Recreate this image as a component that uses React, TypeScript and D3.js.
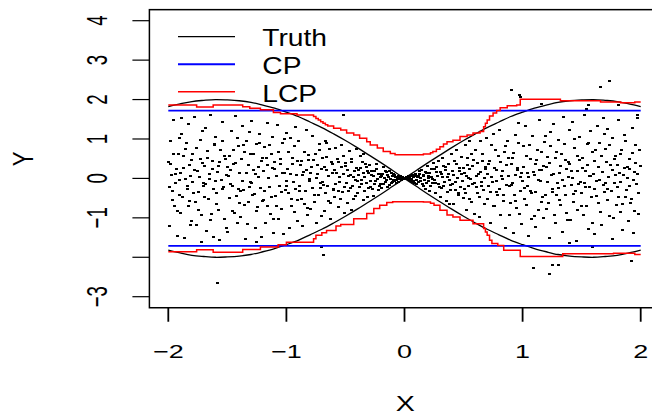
import React from "react";
import * as d3 from "d3";

const W = 652;
const H = 414;

const xTicks = [-2, -1, 0, 1, 2];
const xTickLabels = ["−2", "−1", "0", "1", "2"];
const yTicks = [-3, -2, -1, 0, 1, 2, 3, 4];
const yTickLabels = ["−3", "", "−1", "0", "1", "2", "3", "4"];

const legendLabels = ["Truth", "CP", "LCP"];
const legendColors = ["#000000", "#0000ff", "#ff0000"];

const truthX = [-2, -1.9, -1.8, -1.7, -1.6, -1.5, -1.4, -1.3, -1.2, -1.1, -1, -0.9, -0.8, -0.7, -0.6, -0.5, -0.4, -0.3, -0.2, -0.1, 0,
  0.1, 0.2, 0.3, 0.4, 0.5, 0.6, 0.7, 0.8, 0.9, 1, 1.1, 1.2, 1.3, 1.4, 1.5, 1.6, 1.7, 1.8, 1.9, 2];
const truthUpper = [1.82, 1.89, 1.95, 1.98, 2.0, 1.99, 1.97, 1.93, 1.86, 1.78, 1.68, 1.57, 1.43, 1.29, 1.13, 0.96, 0.78, 0.59, 0.4, 0.2, 0,
  -0.2, -0.4, -0.59, -0.78, -0.96, -1.13, -1.29, -1.43, -1.57, -1.68, -1.78, -1.86, -1.93, -1.97, -1.99, -2.0, -1.98, -1.95, -1.89, -1.82];
const truthLower = [-1.82, -1.89, -1.95, -1.98, -2.0, -1.99, -1.97, -1.93, -1.86, -1.78, -1.68, -1.57, -1.43, -1.29, -1.13, -0.96, -0.78, -0.59, -0.4, -0.2, 0,
  0.2, 0.4, 0.59, 0.78, 0.96, 1.13, 1.29, 1.43, 1.57, 1.68, 1.78, 1.86, 1.93, 1.97, 1.99, 2.0, 1.98, 1.95, 1.89, 1.82];

const cpUpper = 1.72;
const cpLower = -1.71;

const lcpUpperX = [-2, -1.76, -1.62, -1.37, -1.31, -1.22, -1.11, -1.05, -0.91, -0.77, -0.75, -0.73, -0.71, -0.69, -0.67, -0.65, -0.6, -0.54, -0.49, -0.43, -0.38, -0.32, -0.29, -0.23, -0.18, -0.12, -0.08,
  0.16, 0.22, 0.24, 0.27, 0.3, 0.33, 0.36, 0.41, 0.47, 0.53, 0.58, 0.64, 0.67, 0.685, 0.7, 0.72, 0.75, 0.78, 0.81, 0.87, 0.95, 0.98, 1.32, 1.66, 1.83, 1.95, 2];
const lcpUpperY = [1.86, 1.81, 1.86, 1.82, 1.78, 1.74, 1.67, 1.64, 1.61, 1.57, 1.52, 1.48, 1.44, 1.4, 1.36, 1.33, 1.27, 1.23, 1.15, 1.1, 1.02, 0.93, 0.85, 0.77, 0.68, 0.63, 0.6,
  0.62, 0.65, 0.68, 0.74, 0.8, 0.87, 0.93, 0.97, 1.06, 1.1, 1.15, 1.19, 1.31, 1.4, 1.48, 1.58, 1.66, 1.72, 1.79, 1.84, 1.86, 2.01, 1.97, 1.94, 1.92, 1.94, 1.94];
const lcpLowerX = [-2, -1.76, -1.62, -1.37, -1.22, -1.07, -1.0, -0.77, -0.75, -0.7, -0.66, -0.58, -0.54, -0.43, -0.32, -0.26, -0.21, -0.15, -0.1,
  0.16, 0.22, 0.25, 0.3, 0.36, 0.41, 0.47, 0.58, 0.67, 0.685, 0.7, 0.72, 0.74, 0.79, 0.84, 0.98, 1.34, 1.77, 1.95, 2];
const lcpLowerY = [-1.86, -1.81, -1.87, -1.8, -1.74, -1.68, -1.62, -1.53, -1.44, -1.38, -1.32, -1.21, -1.17, -1.02, -0.89, -0.76, -0.68, -0.61, -0.59,
  -0.6, -0.63, -0.68, -0.81, -0.93, -0.98, -1.06, -1.15, -1.27, -1.36, -1.44, -1.57, -1.65, -1.7, -1.82, -1.98, -1.91, -1.9, -1.93, -1.93];

const points: [number, number][] = [
  [-1.995, 0.42], [-1.987, -1.21], [-1.978, 0.95], [-1.966, -0.33], [-1.958, 1.48], [-1.947, -0.71], [-1.936, 0.11], [-1.925, -1.46], [-1.914, 0.63], [-1.903, -0.05],
  [-1.896, -0.88], [-1.884, 1.12], [-1.875, 0.27], [-1.862, -1.52], [-1.853, 0.74], [-1.841, -0.19], [-1.833, 1.39], [-1.821, -0.57], [-1.812, 0.05], [-1.804, -1.07],
  [-1.797, 0.61], [-1.786, -0.36], [-1.774, 1.55], [-1.765, -1.18], [-1.752, 0.18], [-1.743, -0.79], [-1.731, 0.97], [-1.722, -1.61], [-1.713, 0.39], [-1.702, -0.12],
  [-1.694, -0.47], [-1.683, 1.27], [-1.677, -1.33], [-1.664, 0.52], [-1.655, -0.02], [-1.646, 1.61], [-1.634, -0.91], [-1.623, 0.23], [-1.615, -1.48], [-1.606, 0.84],
  [-1.598, 1.05], [-1.589, -0.64], [-1.576, 0.31], [-1.568, -1.57], [-1.556, 0.71], [-1.545, -0.26], [-1.537, 1.44], [-1.525, -1.02], [-1.514, 0.48], [-1.503, 0.09],
  [-1.497, -1.36], [-1.485, 0.58], [-1.476, -0.14], [-1.463, 1.21], [-1.457, -0.83], [-1.444, 0.36], [-1.433, 1.58], [-1.426, -0.45], [-1.412, -1.12], [-1.404, 0.81],
  [-1.395, 0.15], [-1.387, -0.97], [-1.373, 1.32], [-1.366, -0.29], [-1.354, 0.66], [-1.347, -1.54], [-1.335, 0.94], [-1.322, -0.61], [-1.316, 1.17], [-1.305, -0.08],
  [-1.298, 1.46], [-1.284, -0.42], [-1.277, 0.22], [-1.265, -1.27], [-1.253, 0.87], [-1.246, -0.73], [-1.234, 0.04], [-1.225, 1.13], [-1.213, -1.49], [-1.202, 0.51],
  [-1.196, -0.56], [-1.188, 0.79], [-1.174, -1.13], [-1.163, 0.33], [-1.157, 1.41], [-1.143, -0.21], [-1.135, -0.89], [-1.124, 0.62], [-1.116, 1.05], [-1.105, -1.38],
  [-1.097, 0.24], [-1.086, -0.71], [-1.075, 1.36], [-1.068, -1.02], [-1.054, 0.49], [-1.043, -0.35], [-1.037, 0.91], [-1.024, -1.42], [-1.013, 0.13], [-1.003, 1.16],
  [-0.995, -0.18], [-0.984, 0.66], [-0.977, -1.25], [-0.963, 1.03], [-0.956, -0.52], [-0.945, 0.37], [-0.933, -0.86], [-0.927, 1.31], [-0.914, 0.08], [-0.906, -1.09],
  [-0.897, 0.94], [-0.885, -0.31], [-0.874, 0.45], [-0.867, -1.21], [-0.853, 0.17], [-0.846, -0.64], [-0.834, 1.24], [-0.823, -0.93], [-0.817, 0.59], [-0.804, -0.06],
  [-0.796, -0.78], [-0.787, 0.29], [-0.776, 1.08], [-0.764, -0.42], [-0.755, 0.63], [-0.743, -1.12], [-0.736, 0.11], [-0.722, 0.87], [-0.715, -0.25], [-0.703, -0.96],
  [-0.698, 0.52], [-0.684, -0.17], [-0.676, -0.83], [-0.665, 0.96], [-0.657, 0.21], [-0.644, -0.57], [-0.635, 0.74], [-0.626, -1.02], [-0.612, 0.36], [-0.604, -0.29],
  [-0.594, -0.46], [-0.588, 0.78], [-0.575, 0.13], [-0.563, -0.72], [-0.555, 0.41], [-0.547, -0.09], [-0.536, 0.86], [-0.522, -0.34], [-0.514, 0.57], [-0.505, -0.88],
  [-0.497, 0.31], [-0.486, -0.63], [-0.477, 0.07], [-0.465, 0.69], [-0.454, -0.24], [-0.446, 0.48], [-0.433, -0.51], [-0.425, 0.18], [-0.414, -0.04], [-0.403, 0.74],
  [-0.396, -0.38], [-0.388, 0.22], [-0.374, 0.56], [-0.366, -0.13], [-0.355, 0.41], [-0.343, -0.55], [-0.337, 0.03], [-0.324, 0.29], [-0.316, -0.46], [-0.305, 0.14],
  [-0.296, 0.33], [-0.287, -0.21], [-0.278, 0.08], [-0.263, -0.44], [-0.254, 0.19], [-0.247, -0.06], [-0.236, 0.37], [-0.224, -0.29], [-0.215, 0.12], [-0.203, -0.15],
  [-0.197, -0.24], [-0.186, 0.11], [-0.178, 0.29], [-0.165, -0.08], [-0.153, 0.17], [-0.146, -0.21], [-0.134, 0.04], [-0.127, 0.19], [-0.114, -0.12], [-0.105, 0.07],
  [-0.094, 0.12], [-0.086, -0.07], [-0.075, 0.03], [-0.066, -0.11], [-0.054, 0.06], [-0.047, -0.02], [-0.036, 0.05], [-0.025, -0.04], [-0.014, 0.01], [-0.006, -0.01],
  [0.004, 0.0], [0.013, -0.02], [0.025, 0.04], [0.033, -0.05], [0.046, 0.02], [0.054, 0.07], [0.063, -0.09], [0.075, 0.03], [0.084, -0.12], [0.096, 0.1],
  [0.103, -0.14], [0.115, 0.05], [0.124, 0.18], [0.136, -0.07], [0.143, 0.22], [0.157, -0.19], [0.165, 0.09], [0.176, -0.27], [0.184, 0.13], [0.197, 0.31],
  [0.206, 0.07], [0.214, -0.31], [0.227, 0.24], [0.233, -0.12], [0.245, 0.39], [0.256, -0.03], [0.264, -0.36], [0.273, 0.16], [0.285, 0.44], [0.294, -0.22],
  [0.303, -0.47], [0.317, 0.11], [0.325, 0.52], [0.334, -0.18], [0.346, 0.28], [0.353, -0.58], [0.367, 0.04], [0.375, 0.37], [0.386, -0.29], [0.395, 0.61],
  [0.404, 0.19], [0.413, -0.66], [0.426, 0.43], [0.435, -0.09], [0.443, 0.72], [0.457, -0.38], [0.464, 0.26], [0.476, -0.21], [0.485, 0.55], [0.497, -0.49],
  [0.506, -0.27], [0.514, 0.84], [0.523, -0.79], [0.537, 0.35], [0.545, 0.02], [0.553, -0.52], [0.566, 0.63], [0.574, -0.14], [0.587, 0.47], [0.595, -0.91],
  [0.603, 0.71], [0.617, -0.38], [0.624, 0.12], [0.636, -0.97], [0.644, 0.95], [0.655, -0.19], [0.663, 0.44], [0.677, -0.66], [0.686, 0.28], [0.694, 1.02],
  [0.705, -0.53], [0.713, 0.37], [0.726, -1.14], [0.734, 0.86], [0.747, -0.08], [0.755, 1.12], [0.764, -0.71], [0.776, 0.21], [0.783, -0.34], [0.796, 0.58],
  [0.804, 1.24], [0.817, -0.93], [0.823, 0.07], [0.835, -0.42], [0.846, 0.68], [0.854, -1.27], [0.866, 0.33], [0.873, 0.96], [0.887, -0.18], [0.895, -0.62],
  [0.906, -0.16], [0.914, 0.52], [0.925, -1.38], [0.937, 1.09], [0.944, -0.57], [0.956, 0.27], [0.963, 1.41], [0.975, -0.89], [0.984, 0.03], [0.993, -1.15],
  [1.004, 0.81], [1.016, -0.24], [1.023, 1.32], [1.035, -0.68], [1.043, 0.14], [1.054, -1.46], [1.067, 0.49], [1.076, -0.37], [1.085, 1.07], [1.097, -0.95],
  [1.106, 0.36], [1.113, -1.22], [1.125, 0.72], [1.134, -0.05], [1.147, 1.47], [1.156, -0.61], [1.164, 0.22], [1.173, -1.01], [1.186, 0.93], [1.195, -0.43],
  [1.204, -0.78], [1.215, 0.55], [1.227, -1.51], [1.236, 1.18], [1.244, 0.09], [1.253, -0.34], [1.265, 1.39], [1.276, -1.13], [1.284, 0.67], [1.297, -0.12],
  [1.306, 0.98], [1.314, -0.56], [1.323, 0.31], [1.335, -1.36], [1.346, 1.57], [1.357, -0.19], [1.364, 0.46], [1.372, -0.87], [1.385, 0.03], [1.393, 1.23],
  [1.405, -1.05], [1.417, 0.19], [1.426, 1.42], [1.434, -0.39], [1.443, 0.77], [1.455, -1.58], [1.466, 0.58], [1.474, -0.14], [1.483, 1.06], [1.496, -0.71],
  [1.503, 0.27], [1.514, -0.93], [1.526, 1.61], [1.535, -0.22], [1.547, 0.88], [1.554, -1.29], [1.563, 0.05], [1.575, 1.19], [1.586, -0.48], [1.594, 0.66],
  [1.607, -1.41], [1.613, 0.43], [1.624, -0.07], [1.637, 1.33], [1.645, -0.62], [1.653, 0.91], [1.666, -1.18], [1.674, 0.16], [1.687, 1.54], [1.695, -0.35],
  [1.704, 0.74], [1.716, -0.28], [1.723, 1.26], [1.734, -0.96], [1.745, 0.34], [1.757, -1.53], [1.763, 1.02], [1.776, -0.11], [1.784, 0.57], [1.796, -0.67],
  [1.803, -0.21], [1.815, 1.48], [1.826, -0.84], [1.833, 0.62], [1.844, -1.32], [1.857, 0.08], [1.865, 1.11], [1.874, -0.46], [1.886, 0.29], [1.893, -1.07],
  [1.904, 0.49], [1.913, -0.63], [1.927, 1.27], [1.935, -1.39], [1.946, 0.17], [1.953, 0.86], [1.964, -0.15], [1.976, 1.52], [1.985, -0.91], [1.996, 0.32],
  [-1.585, -2.65], [0.91, 2.23], [0.97, 2.12], [0.98, 2.06], [1.16, 1.89], [1.56, 1.86], [1.54, 1.76], [1.66, 2.33], [1.74, 2.48], [1.81, 1.85],
  [1.97, 1.61], [1.09, -2.27], [1.25, -2.19], [1.3, -2.19], [1.23, -2.42], [1.92, -2.1], [1.4, -1.64], [1.59, -1.74], [-0.69, -1.93], [-0.7, -1.74],
  [-0.52, 1.61], [-0.66, 0.89], [-1.89, 1.53], [-1.25, -1.6], [-0.35, 0.62], [0.38, -0.66], [-0.45, -0.8], [0.55, 0.95],
];

const pointsCentral: [number, number][] = [
  [-1.992, -0.21], [-1.981, 0.37], [-1.972, 0.08], [-1.961, -0.54], [-1.952, 0.62], [-1.941, -0.12], [-1.932, 0.25], [-1.919, -0.83], [-1.909, 1.02], [-1.901, -0.41],
  [-1.893, 0.14], [-1.879, -0.46], [-1.869, 0.58], [-1.857, -0.02], [-1.848, 0.91], [-1.838, -0.28], [-1.827, -0.71], [-1.817, 0.33], [-1.808, -1.18], [-1.801, 0.47],
  [-1.792, -0.09], [-1.781, 0.22], [-1.77, -0.61], [-1.759, 0.78], [-1.748, -0.35], [-1.738, 0.04], [-1.727, 0.49], [-1.717, -0.94], [-1.708, 1.21], [-1.704, -0.18],
  [-1.697, 0.31], [-1.689, -0.15], [-1.671, 0.69], [-1.66, -0.53], [-1.651, 0.11], [-1.641, -1.05], [-1.629, 0.43], [-1.619, -0.27], [-1.61, 0.87], [-1.602, -0.06],
  [-1.595, -0.38], [-1.583, 0.17], [-1.572, -0.79], [-1.563, 0.42], [-1.551, -0.04], [-1.541, 0.96], [-1.532, -0.22], [-1.52, 0.58], [-1.509, -1.27], [-1.501, 0.28],
  [-1.492, 0.06], [-1.481, -0.49], [-1.47, 0.21], [-1.459, -0.18], [-1.451, 0.71], [-1.439, -0.88], [-1.429, 0.39], [-1.418, 1.03], [-1.408, -0.27], [-1.401, -0.63],
  [-1.391, -0.33], [-1.38, 0.49], [-1.37, -0.06], [-1.36, 0.86], [-1.351, -0.67], [-1.341, 0.13], [-1.329, -1.15], [-1.319, 0.34], [-1.31, -0.21], [-1.302, 0.62],
  [-1.293, -0.11], [-1.281, 0.63], [-1.272, -0.39], [-1.26, 0.12], [-1.249, -0.82], [-1.24, 0.29], [-1.229, 0.91], [-1.219, -0.24], [-1.208, 0.45], [-1.201, -0.58],
  [-1.192, 0.18], [-1.182, -0.32], [-1.169, 0.53], [-1.16, -0.69], [-1.151, 0.02], [-1.139, 0.84], [-1.13, -0.47], [-1.12, 0.26], [-1.109, -1.04], [-1.101, 0.41],
  [-1.092, -0.44], [-1.081, 0.07], [-1.071, 0.68], [-1.062, -0.19], [-1.049, 0.36], [-1.039, -0.78], [-1.031, 0.15], [-1.019, 1.01], [-1.008, -0.29], [-1.001, -0.06],
  [-0.991, 0.24], [-0.98, -0.38], [-0.969, 0.11], [-0.959, -0.71], [-0.95, 0.52], [-0.94, -0.08], [-0.929, 0.81], [-0.92, -0.27], [-0.91, 0.43], [-0.902, -0.55],
  [-0.892, -0.18], [-0.88, 0.34], [-0.871, -0.52], [-0.861, 0.09], [-0.85, 0.68], [-0.839, -0.33], [-0.829, 0.21], [-0.819, -0.76], [-0.809, 0.47], [-0.801, -0.02],
  [-0.792, 0.13], [-0.781, -0.24], [-0.771, 0.46], [-0.76, -0.61], [-0.749, 0.02], [-0.739, 0.33], [-0.729, -0.41], [-0.718, 0.71], [-0.709, -0.12], [-0.701, 0.24],
  [-0.693, -0.09], [-0.681, 0.28], [-0.671, -0.36], [-0.661, 0.55], [-0.651, -0.19], [-0.64, 0.07], [-0.63, -0.63], [-0.619, 0.41], [-0.608, 0.14], [-0.601, -0.26],
  [-0.591, 0.22], [-0.582, -0.14], [-0.57, 0.48], [-0.559, -0.31], [-0.551, 0.04], [-0.54, -0.53], [-0.53, 0.29], [-0.519, 0.11], [-0.509, -0.21], [-0.502, 0.39],
  [-0.492, -0.12], [-0.481, 0.21], [-0.471, -0.33], [-0.46, 0.09], [-0.45, 0.42], [-0.44, -0.18], [-0.429, 0.03], [-0.419, -0.44], [-0.409, 0.27], [-0.401, -0.06],
  [-0.392, 0.08], [-0.381, -0.21], [-0.37, 0.27], [-0.361, -0.04], [-0.35, 0.15], [-0.34, -0.32], [-0.33, 0.36], [-0.32, -0.11], [-0.31, 0.19], [-0.301, -0.25],
  [-0.292, -0.06], [-0.282, 0.18], [-0.27, -0.27], [-0.259, 0.05], [-0.25, -0.13], [-0.24, 0.24], [-0.23, -0.02], [-0.219, 0.11], [-0.21, -0.19], [-0.201, 0.03],
  [-0.192, 0.06], [-0.181, -0.14], [-0.171, 0.02], [-0.16, 0.2], [-0.15, -0.05], [-0.14, 0.09], [-0.129, -0.17], [-0.12, -0.01], [-0.11, 0.13], [-0.101, -0.08],
  [-0.091, -0.03], [-0.081, 0.08], [-0.071, -0.05], [-0.06, 0.02], [-0.05, -0.08], [-0.041, 0.04], [-0.031, -0.01], [-0.021, 0.03], [-0.011, -0.02], [-0.003, 0.0],
  [0.008, 0.01], [0.018, 0.03], [0.029, -0.02], [0.038, 0.06], [0.049, -0.04], [0.059, -0.01], [0.068, 0.08], [0.079, -0.06], [0.089, 0.05], [0.099, -0.03],
  [0.108, 0.04], [0.119, -0.09], [0.129, 0.12], [0.139, 0.02], [0.149, -0.15], [0.161, 0.07], [0.17, -0.04], [0.18, 0.16], [0.19, -0.11], [0.199, 0.01],
  [0.202, -0.07], [0.21, 0.13], [0.221, -0.19], [0.23, 0.04], [0.24, -0.02], [0.251, 0.23], [0.26, -0.11], [0.269, 0.28], [0.279, 0.06], [0.29, -0.14],
  [0.308, 0.17], [0.312, -0.24], [0.321, 0.03], [0.33, 0.31], [0.341, -0.09], [0.35, 0.21], [0.36, -0.35], [0.371, 0.12], [0.38, -0.04], [0.391, -0.17],
  [0.408, -0.13], [0.418, 0.08], [0.43, -0.29], [0.439, 0.36], [0.448, 0.01], [0.46, -0.42], [0.469, 0.19], [0.48, 0.11], [0.49, -0.06], [0.5, 0.27],
  [0.51, 0.14], [0.519, -0.36], [0.528, 0.06], [0.532, 0.51], [0.541, -0.18], [0.55, 0.25], [0.561, -0.02], [0.57, -0.59], [0.58, 0.32], [0.591, -0.11],
  [0.608, -0.21], [0.612, 0.06], [0.62, 0.39], [0.631, -0.47], [0.64, 0.17], [0.649, -0.08], [0.659, 0.62], [0.67, -0.29], [0.68, 0.01], [0.69, 0.23],
  [0.7, 0.12], [0.709, -0.19], [0.72, 0.44], [0.73, -0.34], [0.74, 0.03], [0.75, -0.69], [0.76, 0.26], [0.77, 0.71], [0.78, -0.07], [0.79, -0.43],
  [0.801, -0.28], [0.812, 0.41], [0.826, -0.02], [0.831, 0.19], [0.842, -0.57], [0.858, 0.83], [0.861, -0.16], [0.877, 0.05], [0.883, 0.52], [0.891, -0.93],
  [0.902, 0.37], [0.911, -0.11], [0.921, 0.64], [0.929, -0.43], [0.941, 0.08], [0.951, -0.76], [0.959, 0.22], [0.969, 0.91], [0.979, -0.31], [0.988, 0.14],
  [1.001, -0.07], [1.011, 0.29], [1.019, -0.52], [1.031, 0.58], [1.039, -0.19], [1.049, 0.04], [1.061, 0.86], [1.071, -0.33], [1.079, -1.02], [1.091, 0.17],
  [1.101, 0.09], [1.109, -0.34], [1.119, 0.47], [1.131, -0.81], [1.141, 0.21], [1.151, -0.06], [1.159, 0.68], [1.169, -0.48], [1.181, 0.31], [1.19, 1.08],
  [1.201, 0.28], [1.211, -0.09], [1.221, -0.62], [1.231, 0.39], [1.239, 0.83], [1.249, -0.27], [1.259, 0.12], [1.271, -0.93], [1.281, 0.51], [1.29, -0.43],
  [1.301, -0.24], [1.309, 0.14], [1.319, -0.68], [1.329, 0.62], [1.341, -0.03], [1.351, 0.88], [1.36, -0.41], [1.369, 0.23], [1.379, -1.06], [1.389, 0.42],
  [1.401, 0.36], [1.411, -0.17], [1.421, 0.02], [1.429, -0.59], [1.439, 1.01], [1.449, -0.32], [1.461, 0.19], [1.469, -0.81], [1.479, 0.47], [1.489, -0.08],
  [1.501, -0.38], [1.509, 0.52], [1.521, -0.11], [1.531, 0.18], [1.541, -0.69], [1.549, 0.34], [1.559, 0.91], [1.569, -0.21], [1.579, 0.07], [1.591, -1.13],
  [1.601, 0.11], [1.609, -0.26], [1.619, 0.73], [1.629, -0.44], [1.641, 0.29], [1.649, -0.03], [1.659, -0.86], [1.669, 0.57], [1.681, -0.17], [1.691, 1.12],
  [1.701, -0.12], [1.709, 0.41], [1.719, -0.55], [1.729, 0.03], [1.739, 0.86], [1.751, -0.31], [1.759, 0.22], [1.769, -1.01], [1.779, 0.49], [1.789, 0.09],
  [1.801, 0.33], [1.809, -0.47], [1.821, 0.14], [1.829, -0.08], [1.839, 0.71], [1.849, -0.66], [1.861, 0.26], [1.869, 0.94], [1.879, -0.29], [1.889, 0.02],
  [1.901, -0.19], [1.909, 0.23], [1.921, -0.52], [1.931, 0.64], [1.941, -0.03], [1.949, -0.82], [1.959, 0.38], [1.969, 0.11], [1.979, -0.36], [1.991, 0.73],
];

export default function App() {
  const x = d3.scaleLinear().domain([-2, 2]).range([168.3, 640.7]);
  const y = d3.scaleLinear().domain([-3, 4]).range([296.7, 20.7]);
  const boxL = x(-2.16);
  const boxR = x(2.16);
  const boxT = y(4.28);
  const boxB = y(-3.28);

  const smooth = d3.line<number>().x((_, i) => x(truthX[i])).y((d) => y(d)).curve(d3.curveCatmullRom);
  const stepUpper = d3.line<number>().x((_, i) => x(lcpUpperX[i])).y((d) => y(d)).curve(d3.curveStepAfter);
  const stepLower = d3.line<number>().x((_, i) => x(lcpLowerX[i])).y((d) => y(d)).curve(d3.curveStepAfter);

  const font = "'Liberation Sans', Arial, Helvetica, sans-serif";
  const legendY = [36.7, 64.3, 91.7];
  const legendBase = [46, 74, 101.7];
  const legendWidths = [1.2, 2, 1.5];
  const allPoints = points.concat(pointsCentral);

  return (
    <div style={{ position: "fixed", left: 0, top: 0, width: W, height: H, background: "#fff" }}>
      <svg width={W} height={H} viewBox={`0 0 ${W} ${H}`} style={{ display: "block" }}>
        <rect x={0} y={0} width={W} height={H} fill="#fff" />
        <g fill="#000" shapeRendering="crispEdges">
          {allPoints.map((p, i) => (
            <rect key={i} x={Math.round(x(p[0]) - 1.5)} y={Math.round(y(p[1]) - 1)} width={3} height={2} />
          ))}
        </g>
        <path d={smooth(truthUpper) || ""} fill="none" stroke="#000" strokeWidth={1.3} />
        <path d={smooth(truthLower) || ""} fill="none" stroke="#000" strokeWidth={1.3} />
        <line x1={x(-2)} x2={x(2)} y1={y(cpUpper)} y2={y(cpUpper)} stroke="#0000ff" strokeWidth={1.8} />
        <line x1={x(-2)} x2={x(2)} y1={y(cpLower)} y2={y(cpLower)} stroke="#0000ff" strokeWidth={1.8} />
        <path d={stepUpper(lcpUpperY) || ""} fill="none" stroke="#ff0000" strokeWidth={1.5} />
        <path d={stepLower(lcpLowerY) || ""} fill="none" stroke="#ff0000" strokeWidth={1.5} />
        <rect x={boxL} y={boxT} width={boxR - boxL} height={boxB - boxT} fill="none" stroke="#000" strokeWidth={1.5} />
        {xTicks.map((t, i) => (
          <g key={"xt" + i}>
            <line x1={x(t)} x2={x(t)} y1={boxB} y2={boxB + 14} stroke="#000" strokeWidth={1.8} />
            <text
              transform={`translate(${x(t)},358.3) scale(1.45,1)`}
              textAnchor="middle"
              fontFamily={font}
              fontSize={18.6}
              fill="#000"
            >
              {xTickLabels[i]}
            </text>
          </g>
        ))}
        {yTicks.map((t, i) => (
          <g key={"yt" + i}>
            <line x1={boxL - 17} x2={boxL} y1={y(t)} y2={y(t)} stroke="#000" strokeWidth={1.2} />
            {yTickLabels[i] && (
              <text
                transform={`translate(107.3,${y(t)}) rotate(-90) scale(1,1.6)`}
                textAnchor="middle"
                fontFamily={font}
                fontSize={18.6}
                fill="#000"
              >
                {yTickLabels[i]}
              </text>
            )}
          </g>
        ))}
        <text transform={`translate(405.3,410.8) scale(1.3,1)`} textAnchor="middle" fontFamily={font} fontSize={22} fill="#000">
          X
        </text>
        <text transform={`translate(33.3,159) rotate(-90) scale(1,1.35)`} textAnchor="middle" fontFamily={font} fontSize={22} fill="#000">
          Y
        </text>
        {legendLabels.map((lab, i) => (
          <g key={"lg" + i}>
            <line x1={178} x2={235} y1={legendY[i]} y2={legendY[i]} stroke={legendColors[i]} strokeWidth={legendWidths[i]} />
            <text transform={`translate(262.3,${legendBase[i]}) scale(1.2,1)`} fontFamily={font} fontSize={23.5} fill="#000">
              {lab}
            </text>
          </g>
        ))}
      </svg>
    </div>
  );
}
